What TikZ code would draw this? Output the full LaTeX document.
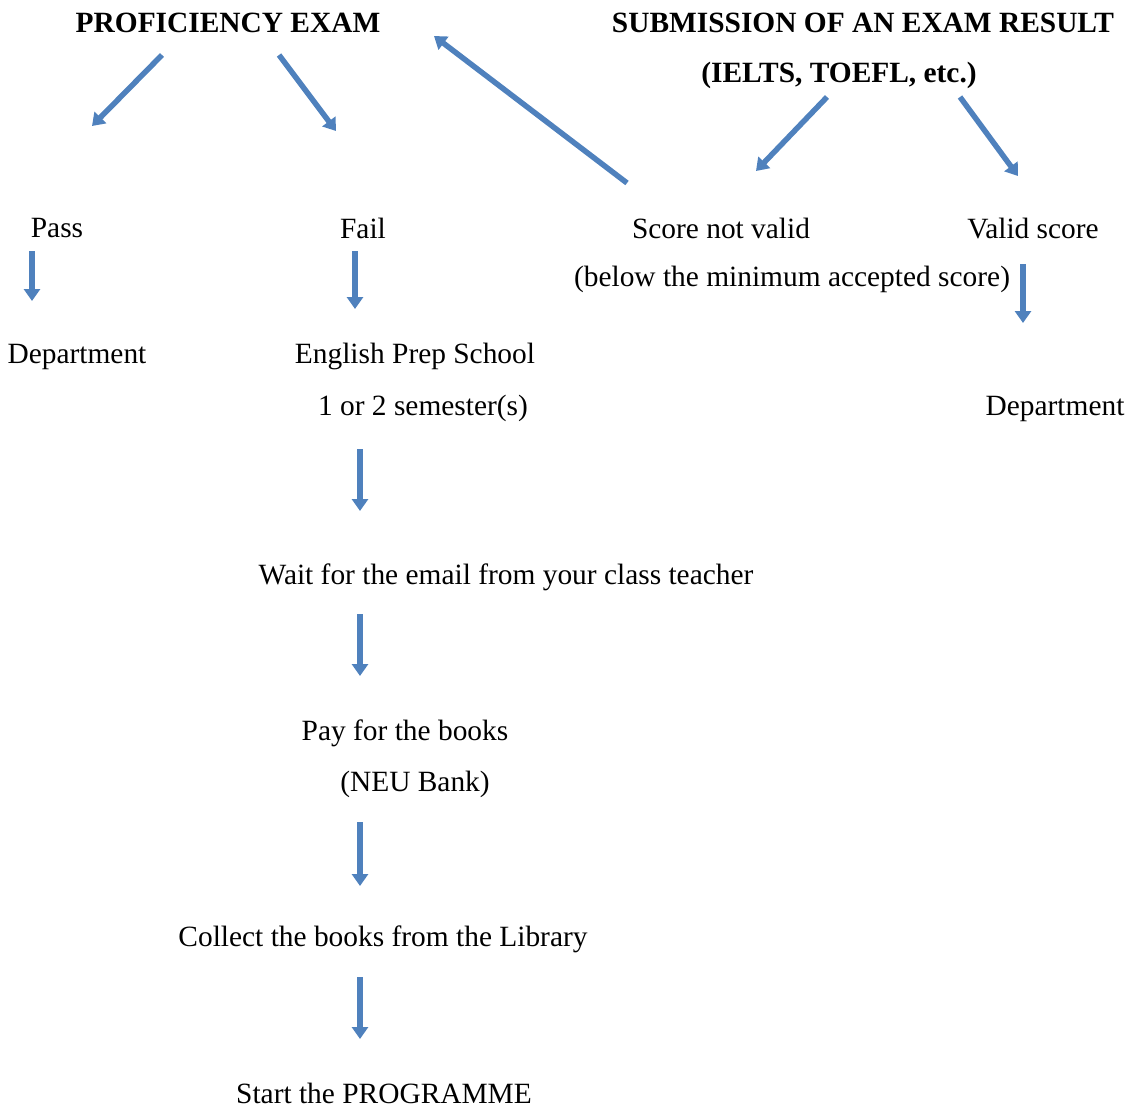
\documentclass[tikz,border=0pt]{standalone}
\usepackage{fontspec}
\setmainfont{Liberation Serif}
\usetikzlibrary{arrows.meta}
\definecolor{arrblue}{HTML}{4F81BD}
\begin{document}
\begin{tikzpicture}[x=1pt,y=-1pt,
  txt/.style={inner sep=0pt, yshift=-2.5pt, font=\fontsize{29.4pt}{34pt}\selectfont},
  hd/.style={txt, font=\fontsize{29.4pt}{34pt}\selectfont\bfseries},
  arr/.style={draw=arrblue, line width=5.5pt, -{Triangle[length=12pt,width=16pt]}}]
\useasboundingbox (0,0) rectangle (1131,1108);
% texts
\node[hd] (prof) at (228,20) {PROFICIENCY EXAM};
\node[hd] (subm) at (863,20) {SUBMISSION OF AN EXAM RESULT};
\node[hd] (ielts) at (839,73) {(IELTS, TOEFL, etc.)};
\node[txt] (pass) at (57,226) {Pass};
\node[txt] (fail) at (363,226) {Fail};
\node[txt] (snv) at (721,226) {Score not valid};
\node[txt] (vs) at (1033,226) {Valid score};
\node[txt] (below) at (792,277) {(below the minimum accepted score)};
\node[txt] (dep1) at (77,354) {Department};
\node[txt] (eps) at (415,354) {English Prep School};
\node[txt] (sem) at (423,406) {1 or 2 semester(s)};
\node[txt] (dep2) at (1055,406) {Department};
\node[txt] (wait) at (506,575) {Wait for the email from your class teacher};
\node[txt] (pay) at (405,731) {Pay for the books};
\node[txt] (neu) at (415,782) {(NEU Bank)};
\node[txt] (coll) at (383,937) {Collect the books from the Library};
\node[txt] (start) at (384,1091) {Start the PROGRAMME};
% arrow end points
\coordinate (a1s) at (162,55);  \coordinate (a1e) at (92,126);
\coordinate (a2s) at (279,55);  \coordinate (a2e) at (336,131);
\coordinate (a3s) at (627,183); \coordinate (a3e) at (434,36);
\coordinate (a4s) at (827,97);  \coordinate (a4e) at (756,171);
\coordinate (a5s) at (960,97);  \coordinate (a5e) at (1018,176);
\coordinate (a6s) at (32,251);  \coordinate (a6e) at (32,301);
\coordinate (a7s) at (355,251); \coordinate (a7e) at (355,309);
\coordinate (a8s) at (1023,264);\coordinate (a8e) at (1023,323);
\coordinate (a9s) at (360,449); \coordinate (a9e) at (360,511);
\coordinate (a10s) at (360,614);\coordinate (a10e) at (360,676);
\coordinate (a11s) at (360,822);\coordinate (a11e) at (360,886);
\coordinate (a12s) at (360,977);\coordinate (a12e) at (360,1039);
\draw[arr] (a1s) -- (a1e);
\draw[arr] (a2s) -- (a2e);
\draw[arr] (a3s) -- (a3e);
\draw[arr] (a4s) -- (a4e);
\draw[arr] (a5s) -- (a5e);
\draw[arr] (a6s) -- (a6e);
\draw[arr] (a7s) -- (a7e);
\draw[arr] (a8s) -- (a8e);
\draw[arr] (a9s) -- (a9e);
\draw[arr] (a10s) -- (a10e);
\draw[arr] (a11s) -- (a11e);
\draw[arr] (a12s) -- (a12e);
\end{tikzpicture}
\end{document}
